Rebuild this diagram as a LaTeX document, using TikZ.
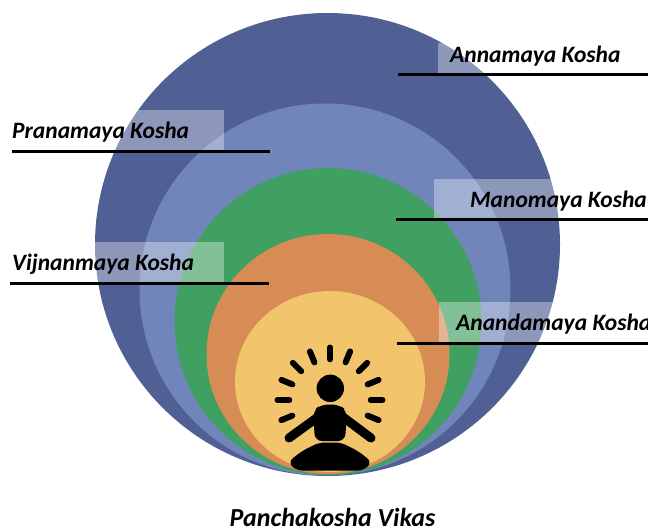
\documentclass[tikz,border=0pt]{standalone}
\usepackage{fontspec}
\setmainfont{Carlito}
\definecolor{annacol}{RGB}{80,96,148}
\definecolor{pranacol}{RGB}{112,134,186}
\definecolor{manocol}{RGB}{63,160,98}
\definecolor{vijcol}{RGB}{216,140,85}
\definecolor{anancol}{RGB}{242,196,108}
\begin{document}
\begin{tikzpicture}[x=1pt,y=-1pt,
  labelbox/.style={fill=white,fill opacity=0.35},
  labeltext/.style={anchor=base west,inner sep=0pt,font=\bfseries\itshape\fontsize{23.5}{28}\selectfont,text=black},
  leader/.style={draw=black,line width=3pt},
  ray/.style={draw=black,line width=6pt,line cap=round},
  arm/.style={draw=black,line width=9pt,line cap=round,line join=round}]
\useasboundingbox (0,0) rectangle (648,531);
\fill[white] (0,0) rectangle (648,531);
% koshas
\fill[annacol] (327.5,244.5) ellipse [x radius=232.5, y radius=231.5];
\fill[pranacol] (325,289.5) ellipse [x radius=185.5, y radius=186];
\fill[manocol] (328,321.5) ellipse [x radius=153.5, y radius=153.5];
\fill[vijcol] (328,354) ellipse [x radius=121.5, y radius=120];
\fill[anancol] (330,381.5) ellipse [x radius=95, y radius=90.5];
% meditating figure
\foreach \k in {-5,...,5}{
  \pgfmathsetmacro{\a}{-90+\k*22.5}
  \draw[ray] ([shift={(\a:40.7)}]330,400) -- ([shift={(\a:52.5)}]330,400);
}
\fill[black] (330.3,388.3) circle [radius=13.7];
\draw[arm] (318,417) -- (289,438);
\draw[arm] (343,417) -- (371,438);
\fill[black,rounded corners=7pt] (315,441) -- (313,411) -- (321,404.5) -- (339,404.5) -- (347,411) -- (345,441) -- cycle;
\fill[black,rounded corners=6pt] (288,462) -- (302,451) -- (319,442.5) -- (341,442.5) -- (358,451) -- (372,462) -- (364,470.5) -- (296,470.5) -- cycle;
% label boxes
\fill[labelbox] (438,43) rectangle (648,73);
\fill[labelbox] (0,110) rectangle (224,150);
\fill[labelbox] (434,179) rectangle (648,218);
\fill[labelbox] (0,242) rectangle (224,282);
\fill[labelbox] (439,302) rectangle (648,342);
% label texts
\node[labeltext] (anna) at (450,62) {Annamaya Kosha};
\node[labeltext] (prana) at (12,138) {Pranamaya Kosha};
\node[labeltext] (mano) at (470,207) {Manomaya Kosha};
\node[labeltext] (vijn) at (12,270) {Vijnanmaya Kosha};
\node[labeltext] (anan) at (456,330) {Anandamaya Kosha};
% leader lines
\coordinate (annaL) at (398,74.5);  \coordinate (annaR) at (648,74.5);
\coordinate (pranaL) at (12,151);   \coordinate (pranaR) at (270,151);
\coordinate (manoL) at (396,219);   \coordinate (manoR) at (648,219);
\coordinate (vijnL) at (10,283);    \coordinate (vijnR) at (269,283);
\coordinate (ananL) at (397,343);   \coordinate (ananR) at (648,343);
\draw[leader] (annaL) -- (annaR);
\draw[leader] (pranaL) -- (pranaR);
\draw[leader] (manoL) -- (manoR);
\draw[leader] (vijnL) -- (vijnR);
\draw[leader] (ananL) -- (ananR);
% title
\node[anchor=base,inner sep=0pt,font=\bfseries\itshape\fontsize{26}{31}\selectfont] (title) at (332.5,526) {Panchakosha Vikas};
\end{tikzpicture}
\end{document}
